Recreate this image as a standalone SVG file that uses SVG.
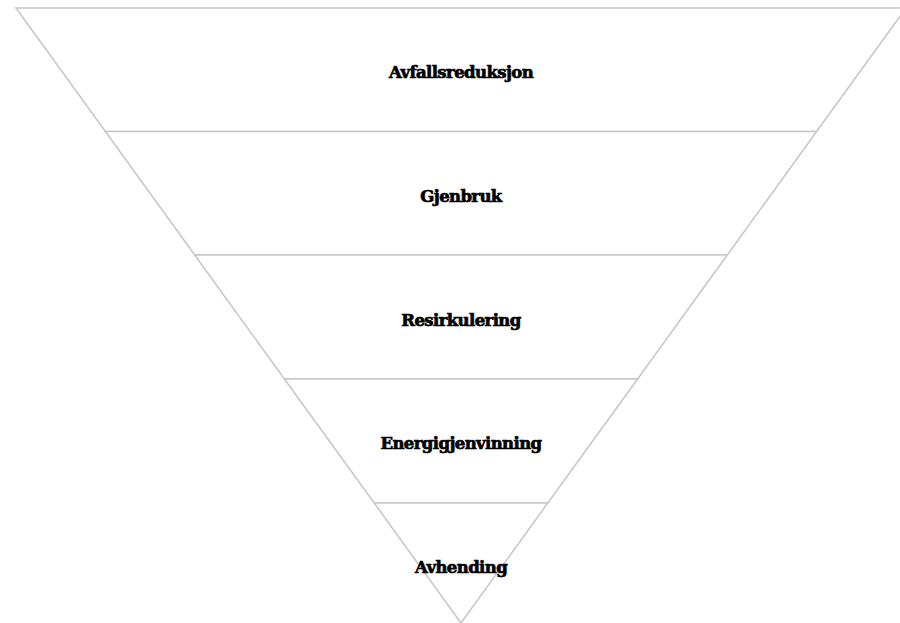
<svg xmlns="http://www.w3.org/2000/svg" width="900" height="623" viewBox="0 0 900 623">
<style>
.lvl{fill:#ffffff;stroke:#c8c8c8;stroke-width:1.6;stroke-linejoin:miter}
.lbl{font-family:"DejaVu Serif","Liberation Serif",serif;font-weight:bold;font-size:16.5px;fill:#000;stroke:#000;stroke-width:0.7;text-anchor:middle;dominant-baseline:central;letter-spacing:-0.6px}
</style>
<rect width="900" height="623" fill="#ffffff"/>
<g id="level1">
<polygon class="lvl" points="16,8 906,8 816.6,131.5 105.4,131.5"/>
<text class="lbl" x="461" y="72">Avfallsreduksjon</text>
</g>
<g id="level2">
<polygon class="lvl" points="105.4,131.5 816.6,131.5 727.3,255 194.7,255"/>
<text class="lbl" x="461" y="196">Gjenbruk</text>
</g>
<g id="level3">
<polygon class="lvl" points="194.7,255 727.3,255 637.6,379 284.4,379"/>
<text class="lbl" x="461" y="320">Resirkulering</text>
</g>
<g id="level4">
<polygon class="lvl" points="284.4,379 637.6,379 547.8,503 374.2,503"/>
<text class="lbl" x="461" y="443">Energigjenvinning</text>
</g>
<g id="level5">
<polygon class="lvl" points="374.2,503 547.8,503 461,623"/>
<text class="lbl" x="461" y="567">Avhending</text>
</g>
<g id="connectors"></g>
</svg>
